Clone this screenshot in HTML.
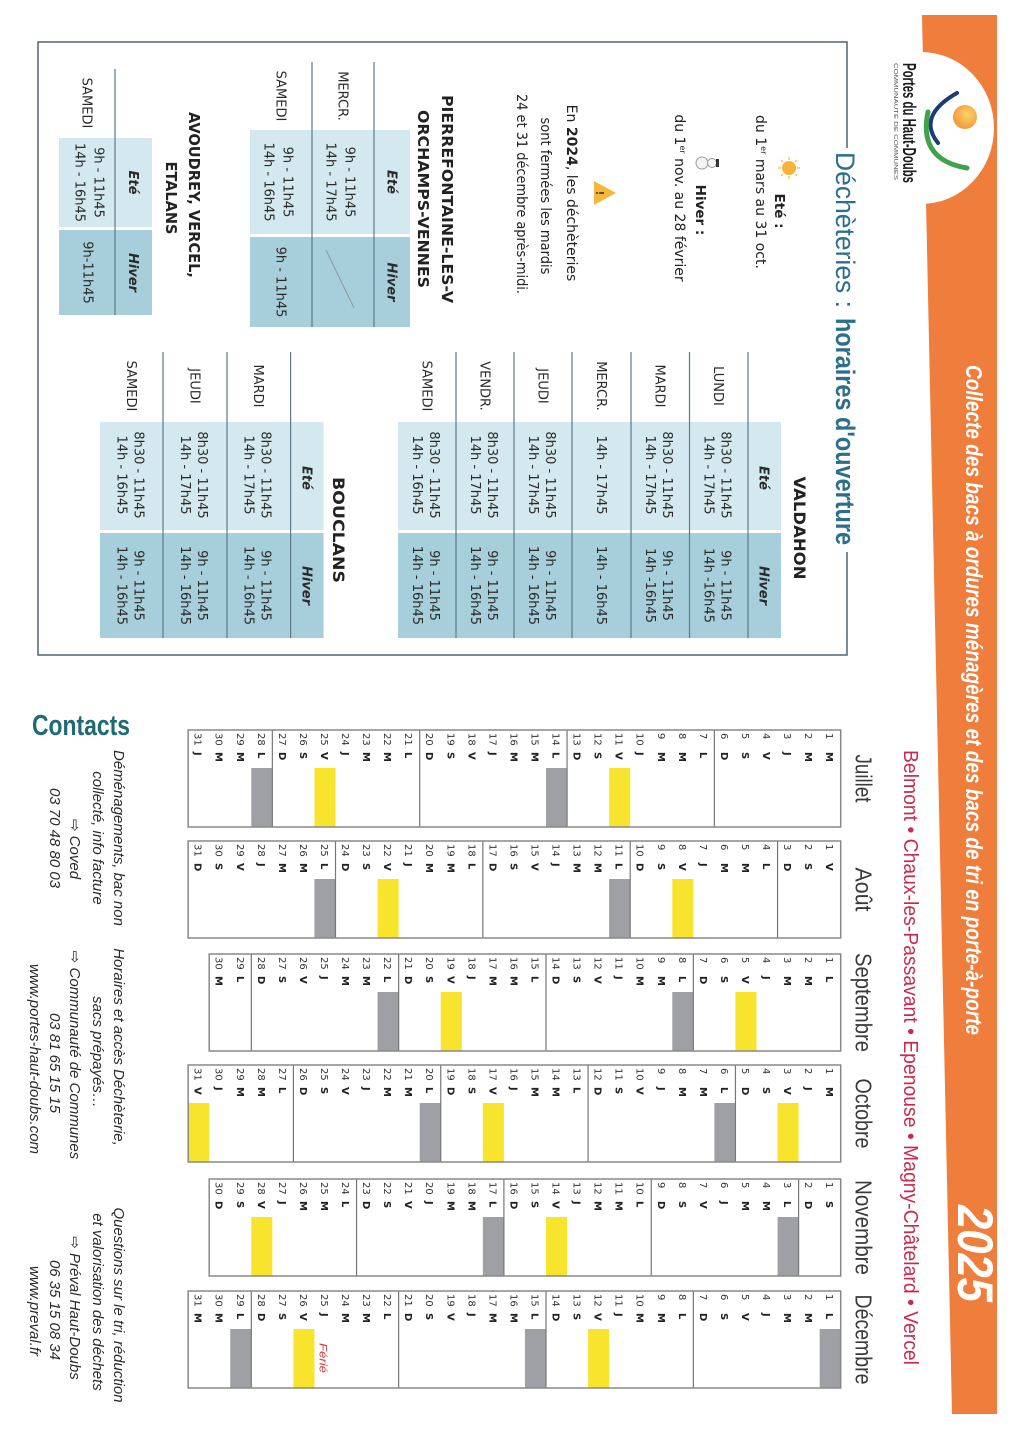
<!DOCTYPE html>
<html><head><meta charset="utf-8">
<style>html,body{margin:0;padding:0;background:#fff;width:1024px;height:1444px;overflow:hidden}svg{display:block}</style>
</head><body>
<svg width="1024" height="1444" viewBox="0 0 1024 1444" xmlns="http://www.w3.org/2000/svg" font-family="'DejaVu Sans', sans-serif">
<defs>
<radialGradient id="sg" cx="0.4" cy="0.4" r="0.6"><stop offset="0" stop-color="#fbd46a"/><stop offset="1" stop-color="#f29a3a"/></radialGradient>
</defs>
<rect width="1024" height="1444" fill="#fff"/>
<text x="32" y="735" font-family="'Liberation Sans', sans-serif" font-weight="bold" font-size="29" fill="#1e6b73" textLength="98" lengthAdjust="spacingAndGlyphs">Contacts</text>

<g transform="translate(1024 0) rotate(90)">
<!-- orange band -->
<polygon points="15,27 1414,27 1414,72 15,102" fill="#ef7d3b"/>
<ellipse cx="128" cy="103" rx="76" ry="73" fill="#fff"/>
<circle cx="117" cy="59" r="12" fill="url(#sg)"/>
<path d="M93 67 Q116 107.5 143 86" fill="none" stroke="#1b3a78" stroke-width="4" stroke-linecap="round"/>
<path d="M112 96 Q160 106 168 57" fill="none" stroke="#3fa34d" stroke-width="5" stroke-linecap="round"/>
<text x="63" y="121" font-family="'Liberation Sans', sans-serif" font-weight="bold" font-size="18" fill="#1a1a1a" textLength="120" lengthAdjust="spacingAndGlyphs">Portes du Haut-Doubs</text>
<text x="63" y="130" font-family="'Liberation Sans', sans-serif" font-size="5.5" fill="#555" textLength="117" lengthAdjust="spacingAndGlyphs">COMMUNAUTÉ DE COMMUNES</text>
<text x="365" y="58" font-family="'Liberation Sans', sans-serif" font-weight="bold" font-style="italic" font-size="23" fill="#fff" textLength="670" lengthAdjust="spacingAndGlyphs">Collecte des bacs à ordures ménagères et des bacs de tri en porte-à-porte</text>
<text x="1205" y="66" font-family="'Liberation Sans', sans-serif" font-weight="bold" font-style="italic" font-size="50" fill="#fff" textLength="97" lengthAdjust="spacingAndGlyphs">2025</text>
<text x="750" y="120" font-family="'Liberation Sans', sans-serif" font-size="20" fill="#c9294d" textLength="615" lengthAdjust="spacingAndGlyphs">Belmont • Chaux-les-Passavant • Epenouse • Magny-Châtelard • Vercel</text>

<!-- Box -->
<path d="M148 177 H42 V986 H655 V177 H552" fill="none" stroke="#4d6570" stroke-width="1.5"/>
<text x="152" y="188" font-family="'Liberation Sans', sans-serif" font-size="27" fill="#2c6f8b" textLength="156" lengthAdjust="spacingAndGlyphs">Déchèteries :</text>
<text x="318" y="188" font-family="'Liberation Sans', sans-serif" font-weight="bold" font-size="27" fill="#2c6f8b" textLength="227" lengthAdjust="spacingAndGlyphs">horaires d'ouverture</text>

<!-- sun -->
<g stroke="#f7c552" stroke-width="1.5">
<line x1="168" y1="224" x2="168" y2="227"/><line x1="168" y1="243" x2="168" y2="246"/>
<line x1="157" y1="235" x2="160" y2="235"/><line x1="176" y1="235" x2="179" y2="235"/>
<line x1="160" y1="227" x2="162" y2="229"/><line x1="174" y1="241" x2="176" y2="243"/>
<line x1="160" y1="243" x2="162" y2="241"/><line x1="174" y1="229" x2="176" y2="227"/>
</g>
<circle cx="168" cy="235" r="7" fill="#f7b33a"/>
<text x="211" y="249" text-anchor="middle" font-weight="bold" font-size="13.5" fill="#222">Eté :</text>
<text x="192" y="268" text-anchor="middle" font-size="14" fill="#222">du 1<tspan font-size="8" dy="-5">er</tspan><tspan dy="5"> mars au 31 oct.</tspan></text>
<!-- snowman -->
<circle cx="163" cy="322" r="6" fill="#f4f4f4" stroke="#9a9a9a" stroke-width="1"/>
<circle cx="163" cy="312" r="4.5" fill="#f4f4f4" stroke="#9a9a9a" stroke-width="1"/>
<rect x="159" y="305" width="8" height="3" fill="#333"/>
<text x="210" y="328" text-anchor="middle" font-weight="bold" font-size="13.5" fill="#222">Hiver :</text>
<text x="198" y="349" text-anchor="middle" font-size="14" fill="#222">du 1<tspan font-size="8" dy="-5">er</tspan><tspan dy="5"> nov. au 28 février</tspan></text>
<!-- warning -->
<polygon points="193,408 205,430 181,430" fill="#f5b83d"/>
<text x="193" y="428" text-anchor="middle" font-weight="bold" font-size="11" fill="#5a4a20">!</text>
<text x="193" y="457" text-anchor="middle" font-size="14" fill="#222">En <tspan font-weight="bold">2024</tspan>, les déchèteries</text>
<text x="196" y="483" text-anchor="middle" font-size="14" fill="#222" textLength="157" lengthAdjust="spacingAndGlyphs">sont fermées les mardis</text>
<text x="194" y="507" text-anchor="middle" font-size="14" fill="#222" textLength="200" lengthAdjust="spacingAndGlyphs">24 et 31 décembre après-midi.</text>

<!-- Pierrefontaine -->
<text x="199" y="582" text-anchor="middle" font-weight="bold" font-size="15" fill="#222" textLength="208" lengthAdjust="spacingAndGlyphs">PIERREFONTAINE-LES-V</text>
<text x="199" y="606" text-anchor="middle" font-weight="bold" font-size="15" fill="#222" textLength="178" lengthAdjust="spacingAndGlyphs">ORCHAMPS-VENNES</text>
<rect x="130" y="614" width="104" height="160" fill="#d4e9ef"/>
<rect x="237" y="614" width="90" height="160" fill="#a7cfdb"/>
<path d="M62 650 H327 M62 712 H327" stroke="#5d7b88" stroke-width="1.2"/>
<line x1="250" y1="698" x2="308" y2="670" stroke="#8a9aa0" stroke-width="1"/>
<g font-size="13" fill="#2a2a2a" text-anchor="middle">
<text x="182" y="636.7" font-weight="bold" font-style="italic">Eté</text>
<text x="282" y="636.7" font-weight="bold" font-style="italic">Hiver</text>
<text x="96" y="685.7">MERCR.</text>
<text x="96" y="747.7">SAMEDI</text>
<text x="182" y="678.7">9h - 11h45</text>
<text x="182" y="697.7">14h - 17h45</text>
<text x="182" y="740.7">9h - 11h45</text>
<text x="182" y="759.7">14h - 16h45</text>
<text x="282" y="747.7">9h - 11h45</text>
</g>

<!-- Avoudrey -->
<text x="195" y="835" text-anchor="middle" font-weight="bold" font-size="15" fill="#222" textLength="166" lengthAdjust="spacingAndGlyphs">AVOUDREY, VERCEL,</text>
<text x="198" y="858" text-anchor="middle" font-weight="bold" font-size="15" fill="#222" textLength="73" lengthAdjust="spacingAndGlyphs">ETALANS</text>
<rect x="138" y="872" width="89" height="93" fill="#d4e9ef"/>
<rect x="230" y="872" width="85" height="93" fill="#a7cfdb"/>
<path d="M69 909 H315" stroke="#5d7b88" stroke-width="1.2"/>
<g font-size="13" fill="#2a2a2a" text-anchor="middle">
<text x="182.5" y="895" font-weight="bold" font-style="italic">Eté</text>
<text x="272.5" y="895" font-weight="bold" font-style="italic">Hiver</text>
<text x="103" y="941.7">SAMEDI</text>
<text x="182.5" y="929.7">9h - 11h45</text>
<text x="182.5" y="948.7">14h - 16h45</text>
<text x="272.5" y="940.7">9h-11h45</text>
</g>

<!-- Valdahon -->
<text x="528" y="230" text-anchor="middle" font-weight="bold" font-size="16" fill="#222" textLength="103" lengthAdjust="spacingAndGlyphs">VALDAHON</text>
<rect x="422" y="243" width="108" height="383" fill="#d4e9ef"/>
<rect x="533" y="243" width="105" height="383" fill="#a7cfdb"/>
<path d="M352 276H638M352 334.5H638M352 393H638M352 452H638M352 510H638M352 568H638" stroke="#5d7b88" stroke-width="1.2"/>
<g font-size="13" fill="#2a2a2a" text-anchor="middle">
<text x="478" y="264.5" font-weight="bold" font-style="italic">Eté</text>
<text x="585.5" y="264.5" font-weight="bold" font-style="italic">Hiver</text>
<text x="386" y="310">LUNDI</text>
<text x="386" y="368.7">MARDI</text>
<text x="386" y="427.2">MERCR.</text>
<text x="386" y="485.7">JEUDI</text>
<text x="386" y="543.7">VENDR.</text>
<text x="386" y="601.7">SAMEDI</text>
<text x="475" y="302.5">8h30 - 11h45</text><text x="475" y="319.5">14h - 17h45</text>
<text x="585.5" y="302.5">9h - 11h45</text><text x="585.5" y="319.5">14h -16h45</text>
<text x="475" y="361.2">8h30 - 11h45</text><text x="475" y="378.2">14h - 17h45</text>
<text x="585.5" y="361.2">9h - 11h45</text><text x="585.5" y="378.2">14h -16h45</text>
<text x="475" y="427.2">14h - 17h45</text>
<text x="585.5" y="427.2">14h - 16h45</text>
<text x="475" y="478.2">8h30 - 11h45</text><text x="475" y="495.2">14h - 17h45</text>
<text x="585.5" y="478.2">9h - 11h45</text><text x="585.5" y="495.2">14h - 16h45</text>
<text x="475" y="536.2">8h30 - 11h45</text><text x="475" y="553.2">14h - 17h45</text>
<text x="585.5" y="536.2">9h - 11h45</text><text x="585.5" y="553.2">14h - 16h45</text>
<text x="475" y="594.2">8h30 - 11h45</text><text x="475" y="611.2">14h - 16h45</text>
<text x="585.5" y="594.2">9h - 11h45</text><text x="585.5" y="611.2">14h - 16h45</text>
</g>

<!-- Bouclans -->
<text x="530" y="691" text-anchor="middle" font-weight="bold" font-size="16" fill="#222" textLength="106" lengthAdjust="spacingAndGlyphs">BOUCLANS</text>
<rect x="422" y="700.4" width="108" height="223.6" fill="#d4e9ef"/>
<rect x="533" y="700.4" width="105" height="223.6" fill="#a7cfdb"/>
<path d="M352 733.4H638M352 797H638M352 861H638" stroke="#5d7b88" stroke-width="1.2"/>
<g font-size="13" fill="#2a2a2a" text-anchor="middle">
<text x="478" y="721.7" font-weight="bold" font-style="italic">Eté</text>
<text x="585.5" y="721.7" font-weight="bold" font-style="italic">Hiver</text>
<text x="386" y="769.9">MARDI</text>
<text x="386" y="833.7">JEUDI</text>
<text x="386" y="897.2">SAMEDI</text>
<text x="475" y="762.4">8h30 - 11h45</text><text x="475" y="779.4">14h - 17h45</text>
<text x="585.5" y="762.4">9h - 11h45</text><text x="585.5" y="779.4">14h - 16h45</text>
<text x="475" y="826.2">8h30 - 11h45</text><text x="475" y="843.2">14h - 17h45</text>
<text x="585.5" y="826.2">9h - 11h45</text><text x="585.5" y="843.2">14h - 16h45</text>
<text x="475" y="889.7">8h30 - 11h45</text><text x="475" y="906.7">14h - 16h45</text>
<text x="585.5" y="889.7">9h - 11h45</text><text x="585.5" y="906.7">14h - 16h45</text>
</g>

<!-- Calendar: Juillet -->
<g transform="translate(730 183.3)">
<text x="48.5" y="-15" text-anchor="middle" font-family="'Liberation Sans', sans-serif" font-size="23" fill="#3a3a3a" textLength="48" lengthAdjust="spacingAndGlyphs">Juillet</text>
<rect x="38" y="210.5" width="59" height="21.05" fill="#f8e42c"/>
<rect x="38" y="505.2" width="59" height="21.05" fill="#f8e42c"/>
<rect x="38" y="273.65" width="59" height="21.05" fill="#9ea0a6"/>
<rect x="38" y="568.35" width="59" height="21.05" fill="#9ea0a6"/>
<path d="M0 126.3H97M0 273.65H97M0 421H97M0 568.35H97" stroke="#777" stroke-width="1.2"/>
<rect x="0" y="0" width="97" height="652.55" fill="none" stroke="#888" stroke-width="1.5"/>
<text font-size="10" fill="#333"><tspan x="3" y="14.5">1</tspan><tspan x="3" y="35.6">2</tspan><tspan x="3" y="56.6">3</tspan><tspan x="3" y="77.7">4</tspan><tspan x="3" y="98.7">5</tspan><tspan x="3" y="119.8">6</tspan><tspan x="3" y="140.8">7</tspan><tspan x="3" y="161.9">8</tspan><tspan x="3" y="182.9">9</tspan><tspan x="3" y="204">10</tspan><tspan x="3" y="225">11</tspan><tspan x="3" y="246.1">12</tspan><tspan x="3" y="267.1">13</tspan><tspan x="3" y="288.2">14</tspan><tspan x="3" y="309.2">15</tspan><tspan x="3" y="330.3">16</tspan><tspan x="3" y="351.3">17</tspan><tspan x="3" y="372.4">18</tspan><tspan x="3" y="393.4">19</tspan><tspan x="3" y="414.5">20</tspan><tspan x="3" y="435.5">21</tspan><tspan x="3" y="456.6">22</tspan><tspan x="3" y="477.6">23</tspan><tspan x="3" y="498.7">24</tspan><tspan x="3" y="519.7">25</tspan><tspan x="3" y="540.8">26</tspan><tspan x="3" y="561.8">27</tspan><tspan x="3" y="582.9">28</tspan><tspan x="3" y="603.9">29</tspan><tspan x="3" y="625">30</tspan><tspan x="3" y="646">31</tspan></text>
<text font-size="10" font-weight="bold" fill="#222"><tspan x="22" y="14.5">M</tspan><tspan x="22" y="35.6">M</tspan><tspan x="22" y="56.6">J</tspan><tspan x="22" y="77.7">V</tspan><tspan x="22" y="98.7">S</tspan><tspan x="22" y="119.8">D</tspan><tspan x="22" y="140.8">L</tspan><tspan x="22" y="161.9">M</tspan><tspan x="22" y="182.9">M</tspan><tspan x="22" y="204">J</tspan><tspan x="22" y="225">V</tspan><tspan x="22" y="246.1">S</tspan><tspan x="22" y="267.1">D</tspan><tspan x="22" y="288.2">L</tspan><tspan x="22" y="309.2">M</tspan><tspan x="22" y="330.3">M</tspan><tspan x="22" y="351.3">J</tspan><tspan x="22" y="372.4">V</tspan><tspan x="22" y="393.4">S</tspan><tspan x="22" y="414.5">D</tspan><tspan x="22" y="435.5">L</tspan><tspan x="22" y="456.6">M</tspan><tspan x="22" y="477.6">M</tspan><tspan x="22" y="498.7">J</tspan><tspan x="22" y="519.7">V</tspan><tspan x="22" y="540.8">S</tspan><tspan x="22" y="561.8">D</tspan><tspan x="22" y="582.9">L</tspan><tspan x="22" y="603.9">M</tspan><tspan x="22" y="625">M</tspan><tspan x="22" y="646">J</tspan></text>
</g>

<!-- Août -->
<g transform="translate(841 183.3)">
<text x="48.5" y="-15" text-anchor="middle" font-family="'Liberation Sans', sans-serif" font-size="23" fill="#3a3a3a" textLength="44" lengthAdjust="spacingAndGlyphs">Août</text>
<rect x="38" y="147.35" width="59" height="21.05" fill="#f8e42c"/>
<rect x="38" y="442.05" width="59" height="21.05" fill="#f8e42c"/>
<rect x="38" y="210.5" width="59" height="21.05" fill="#9ea0a6"/>
<rect x="38" y="505.2" width="59" height="21.05" fill="#9ea0a6"/>
<path d="M0 63.15H97M0 210.5H97M0 357.85H97M0 505.2H97" stroke="#777" stroke-width="1.2"/>
<rect x="0" y="0" width="97" height="652.55" fill="none" stroke="#888" stroke-width="1.5"/>
<text font-size="10" fill="#333"><tspan x="3" y="14.5">1</tspan><tspan x="3" y="35.6">2</tspan><tspan x="3" y="56.6">3</tspan><tspan x="3" y="77.7">4</tspan><tspan x="3" y="98.7">5</tspan><tspan x="3" y="119.8">6</tspan><tspan x="3" y="140.8">7</tspan><tspan x="3" y="161.9">8</tspan><tspan x="3" y="182.9">9</tspan><tspan x="3" y="204">10</tspan><tspan x="3" y="225">11</tspan><tspan x="3" y="246.1">12</tspan><tspan x="3" y="267.1">13</tspan><tspan x="3" y="288.2">14</tspan><tspan x="3" y="309.2">15</tspan><tspan x="3" y="330.3">16</tspan><tspan x="3" y="351.3">17</tspan><tspan x="3" y="372.4">18</tspan><tspan x="3" y="393.4">19</tspan><tspan x="3" y="414.5">20</tspan><tspan x="3" y="435.5">21</tspan><tspan x="3" y="456.6">22</tspan><tspan x="3" y="477.6">23</tspan><tspan x="3" y="498.7">24</tspan><tspan x="3" y="519.7">25</tspan><tspan x="3" y="540.8">26</tspan><tspan x="3" y="561.8">27</tspan><tspan x="3" y="582.9">28</tspan><tspan x="3" y="603.9">29</tspan><tspan x="3" y="625">30</tspan><tspan x="3" y="646">31</tspan></text>
<text font-size="10" font-weight="bold" fill="#222"><tspan x="22" y="14.5">V</tspan><tspan x="22" y="35.6">S</tspan><tspan x="22" y="56.6">D</tspan><tspan x="22" y="77.7">L</tspan><tspan x="22" y="98.7">M</tspan><tspan x="22" y="119.8">M</tspan><tspan x="22" y="140.8">J</tspan><tspan x="22" y="161.9">V</tspan><tspan x="22" y="182.9">S</tspan><tspan x="22" y="204">D</tspan><tspan x="22" y="225">L</tspan><tspan x="22" y="246.1">M</tspan><tspan x="22" y="267.1">M</tspan><tspan x="22" y="288.2">J</tspan><tspan x="22" y="309.2">V</tspan><tspan x="22" y="330.3">S</tspan><tspan x="22" y="351.3">D</tspan><tspan x="22" y="372.4">L</tspan><tspan x="22" y="393.4">M</tspan><tspan x="22" y="414.5">M</tspan><tspan x="22" y="435.5">J</tspan><tspan x="22" y="456.6">V</tspan><tspan x="22" y="477.6">S</tspan><tspan x="22" y="498.7">D</tspan><tspan x="22" y="519.7">L</tspan><tspan x="22" y="540.8">M</tspan><tspan x="22" y="561.8">M</tspan><tspan x="22" y="582.9">J</tspan><tspan x="22" y="603.9">V</tspan><tspan x="22" y="625">S</tspan><tspan x="22" y="646">D</tspan></text>
</g>

<!-- Septembre -->
<g transform="translate(954 183.3)">
<text x="48.5" y="-15" text-anchor="middle" font-family="'Liberation Sans', sans-serif" font-size="23" fill="#3a3a3a" textLength="99" lengthAdjust="spacingAndGlyphs">Septembre</text>
<rect x="38" y="84.2" width="59" height="21.05" fill="#f8e42c"/>
<rect x="38" y="378.9" width="59" height="21.05" fill="#f8e42c"/>
<rect x="38" y="147.35" width="59" height="21.05" fill="#9ea0a6"/>
<rect x="38" y="442.05" width="59" height="21.05" fill="#9ea0a6"/>
<path d="M0 147.35H97M0 294.7H97M0 442.05H97M0 589.4H97" stroke="#777" stroke-width="1.2"/>
<rect x="0" y="0" width="97" height="631.5" fill="none" stroke="#888" stroke-width="1.5"/>
<text font-size="10" fill="#333"><tspan x="3" y="14.5">1</tspan><tspan x="3" y="35.6">2</tspan><tspan x="3" y="56.6">3</tspan><tspan x="3" y="77.7">4</tspan><tspan x="3" y="98.7">5</tspan><tspan x="3" y="119.8">6</tspan><tspan x="3" y="140.8">7</tspan><tspan x="3" y="161.9">8</tspan><tspan x="3" y="182.9">9</tspan><tspan x="3" y="204">10</tspan><tspan x="3" y="225">11</tspan><tspan x="3" y="246.1">12</tspan><tspan x="3" y="267.1">13</tspan><tspan x="3" y="288.2">14</tspan><tspan x="3" y="309.2">15</tspan><tspan x="3" y="330.3">16</tspan><tspan x="3" y="351.3">17</tspan><tspan x="3" y="372.4">18</tspan><tspan x="3" y="393.4">19</tspan><tspan x="3" y="414.5">20</tspan><tspan x="3" y="435.5">21</tspan><tspan x="3" y="456.6">22</tspan><tspan x="3" y="477.6">23</tspan><tspan x="3" y="498.7">24</tspan><tspan x="3" y="519.7">25</tspan><tspan x="3" y="540.8">26</tspan><tspan x="3" y="561.8">27</tspan><tspan x="3" y="582.9">28</tspan><tspan x="3" y="603.9">29</tspan><tspan x="3" y="625">30</tspan></text>
<text font-size="10" font-weight="bold" fill="#222"><tspan x="22" y="14.5">L</tspan><tspan x="22" y="35.6">M</tspan><tspan x="22" y="56.6">M</tspan><tspan x="22" y="77.7">J</tspan><tspan x="22" y="98.7">V</tspan><tspan x="22" y="119.8">S</tspan><tspan x="22" y="140.8">D</tspan><tspan x="22" y="161.9">L</tspan><tspan x="22" y="182.9">M</tspan><tspan x="22" y="204">M</tspan><tspan x="22" y="225">J</tspan><tspan x="22" y="246.1">V</tspan><tspan x="22" y="267.1">S</tspan><tspan x="22" y="288.2">D</tspan><tspan x="22" y="309.2">L</tspan><tspan x="22" y="330.3">M</tspan><tspan x="22" y="351.3">M</tspan><tspan x="22" y="372.4">J</tspan><tspan x="22" y="393.4">V</tspan><tspan x="22" y="414.5">S</tspan><tspan x="22" y="435.5">D</tspan><tspan x="22" y="456.6">L</tspan><tspan x="22" y="477.6">M</tspan><tspan x="22" y="498.7">M</tspan><tspan x="22" y="519.7">J</tspan><tspan x="22" y="540.8">V</tspan><tspan x="22" y="561.8">S</tspan><tspan x="22" y="582.9">D</tspan><tspan x="22" y="603.9">L</tspan><tspan x="22" y="625">M</tspan></text>
</g>

<!-- Octobre -->
<g transform="translate(1065 183.3)">
<text x="48.5" y="-15" text-anchor="middle" font-family="'Liberation Sans', sans-serif" font-size="23" fill="#3a3a3a" textLength="70" lengthAdjust="spacingAndGlyphs">Octobre</text>
<rect x="38" y="42.1" width="59" height="21.05" fill="#f8e42c"/>
<rect x="38" y="336.8" width="59" height="21.05" fill="#f8e42c"/>
<rect x="38" y="631.5" width="59" height="21.05" fill="#f8e42c"/>
<rect x="38" y="105.25" width="59" height="21.05" fill="#9ea0a6"/>
<rect x="38" y="399.95" width="59" height="21.05" fill="#9ea0a6"/>
<path d="M0 105.25H97M0 252.6H97M0 399.95H97M0 547.3H97" stroke="#777" stroke-width="1.2"/>
<rect x="0" y="0" width="97" height="652.55" fill="none" stroke="#888" stroke-width="1.5"/>
<text font-size="10" fill="#333"><tspan x="3" y="14.5">1</tspan><tspan x="3" y="35.6">2</tspan><tspan x="3" y="56.6">3</tspan><tspan x="3" y="77.7">4</tspan><tspan x="3" y="98.7">5</tspan><tspan x="3" y="119.8">6</tspan><tspan x="3" y="140.8">7</tspan><tspan x="3" y="161.9">8</tspan><tspan x="3" y="182.9">9</tspan><tspan x="3" y="204">10</tspan><tspan x="3" y="225">11</tspan><tspan x="3" y="246.1">12</tspan><tspan x="3" y="267.1">13</tspan><tspan x="3" y="288.2">14</tspan><tspan x="3" y="309.2">15</tspan><tspan x="3" y="330.3">16</tspan><tspan x="3" y="351.3">17</tspan><tspan x="3" y="372.4">18</tspan><tspan x="3" y="393.4">19</tspan><tspan x="3" y="414.5">20</tspan><tspan x="3" y="435.5">21</tspan><tspan x="3" y="456.6">22</tspan><tspan x="3" y="477.6">23</tspan><tspan x="3" y="498.7">24</tspan><tspan x="3" y="519.7">25</tspan><tspan x="3" y="540.8">26</tspan><tspan x="3" y="561.8">27</tspan><tspan x="3" y="582.9">28</tspan><tspan x="3" y="603.9">29</tspan><tspan x="3" y="625">30</tspan><tspan x="3" y="646">31</tspan></text>
<text font-size="10" font-weight="bold" fill="#222"><tspan x="22" y="14.5">M</tspan><tspan x="22" y="35.6">J</tspan><tspan x="22" y="56.6">V</tspan><tspan x="22" y="77.7">S</tspan><tspan x="22" y="98.7">D</tspan><tspan x="22" y="119.8">L</tspan><tspan x="22" y="140.8">M</tspan><tspan x="22" y="161.9">M</tspan><tspan x="22" y="182.9">J</tspan><tspan x="22" y="204">V</tspan><tspan x="22" y="225">S</tspan><tspan x="22" y="246.1">D</tspan><tspan x="22" y="267.1">L</tspan><tspan x="22" y="288.2">M</tspan><tspan x="22" y="309.2">M</tspan><tspan x="22" y="330.3">J</tspan><tspan x="22" y="351.3">V</tspan><tspan x="22" y="372.4">S</tspan><tspan x="22" y="393.4">D</tspan><tspan x="22" y="414.5">L</tspan><tspan x="22" y="435.5">M</tspan><tspan x="22" y="456.6">M</tspan><tspan x="22" y="477.6">J</tspan><tspan x="22" y="498.7">V</tspan><tspan x="22" y="519.7">S</tspan><tspan x="22" y="540.8">D</tspan><tspan x="22" y="561.8">L</tspan><tspan x="22" y="582.9">M</tspan><tspan x="22" y="603.9">M</tspan><tspan x="22" y="625">J</tspan><tspan x="22" y="646">V</tspan></text>
</g>

<!-- Novembre -->
<g transform="translate(1179 183.3)">
<text x="48.5" y="-15" text-anchor="middle" font-family="'Liberation Sans', sans-serif" font-size="23" fill="#3a3a3a" textLength="95" lengthAdjust="spacingAndGlyphs">Novembre</text>
<rect x="38" y="273.65" width="59" height="21.05" fill="#f8e42c"/>
<rect x="38" y="568.35" width="59" height="21.05" fill="#f8e42c"/>
<rect x="38" y="42.1" width="59" height="21.05" fill="#9ea0a6"/>
<rect x="38" y="336.8" width="59" height="21.05" fill="#9ea0a6"/>
<path d="M0 42.1H97M0 189.45H97M0 336.8H97M0 484.15H97" stroke="#777" stroke-width="1.2"/>
<rect x="0" y="0" width="97" height="631.5" fill="none" stroke="#888" stroke-width="1.5"/>
<text font-size="10" fill="#333"><tspan x="3" y="14.5">1</tspan><tspan x="3" y="35.6">2</tspan><tspan x="3" y="56.6">3</tspan><tspan x="3" y="77.7">4</tspan><tspan x="3" y="98.7">5</tspan><tspan x="3" y="119.8">6</tspan><tspan x="3" y="140.8">7</tspan><tspan x="3" y="161.9">8</tspan><tspan x="3" y="182.9">9</tspan><tspan x="3" y="204">10</tspan><tspan x="3" y="225">11</tspan><tspan x="3" y="246.1">12</tspan><tspan x="3" y="267.1">13</tspan><tspan x="3" y="288.2">14</tspan><tspan x="3" y="309.2">15</tspan><tspan x="3" y="330.3">16</tspan><tspan x="3" y="351.3">17</tspan><tspan x="3" y="372.4">18</tspan><tspan x="3" y="393.4">19</tspan><tspan x="3" y="414.5">20</tspan><tspan x="3" y="435.5">21</tspan><tspan x="3" y="456.6">22</tspan><tspan x="3" y="477.6">23</tspan><tspan x="3" y="498.7">24</tspan><tspan x="3" y="519.7">25</tspan><tspan x="3" y="540.8">26</tspan><tspan x="3" y="561.8">27</tspan><tspan x="3" y="582.9">28</tspan><tspan x="3" y="603.9">29</tspan><tspan x="3" y="625">30</tspan></text>
<text font-size="10" font-weight="bold" fill="#222"><tspan x="22" y="14.5">S</tspan><tspan x="22" y="35.6">D</tspan><tspan x="22" y="56.6">L</tspan><tspan x="22" y="77.7">M</tspan><tspan x="22" y="98.7">M</tspan><tspan x="22" y="119.8">J</tspan><tspan x="22" y="140.8">V</tspan><tspan x="22" y="161.9">S</tspan><tspan x="22" y="182.9">D</tspan><tspan x="22" y="204">L</tspan><tspan x="22" y="225">M</tspan><tspan x="22" y="246.1">M</tspan><tspan x="22" y="267.1">J</tspan><tspan x="22" y="288.2">V</tspan><tspan x="22" y="309.2">S</tspan><tspan x="22" y="330.3">D</tspan><tspan x="22" y="351.3">L</tspan><tspan x="22" y="372.4">M</tspan><tspan x="22" y="393.4">M</tspan><tspan x="22" y="414.5">J</tspan><tspan x="22" y="435.5">V</tspan><tspan x="22" y="456.6">S</tspan><tspan x="22" y="477.6">D</tspan><tspan x="22" y="498.7">L</tspan><tspan x="22" y="519.7">M</tspan><tspan x="22" y="540.8">M</tspan><tspan x="22" y="561.8">J</tspan><tspan x="22" y="582.9">V</tspan><tspan x="22" y="603.9">S</tspan><tspan x="22" y="625">D</tspan></text>
</g>

<!-- Décembre -->
<g transform="translate(1291 183.3)">
<text x="48.5" y="-15" text-anchor="middle" font-family="'Liberation Sans', sans-serif" font-size="23" fill="#3a3a3a" textLength="90" lengthAdjust="spacingAndGlyphs">Décembre</text>
<rect x="38" y="231.55" width="59" height="21.05" fill="#f8e42c"/>
<rect x="38" y="526.25" width="59" height="21.05" fill="#f8e42c"/>
<rect x="38" y="0" width="59" height="21.05" fill="#9ea0a6"/>
<rect x="38" y="294.7" width="59" height="21.05" fill="#9ea0a6"/>
<rect x="38" y="589.4" width="59" height="21.05" fill="#9ea0a6"/>
<path d="M0 147.35H97M0 294.7H97M0 442.05H97M0 589.4H97" stroke="#777" stroke-width="1.2"/>
<rect x="0" y="0" width="97" height="652.55" fill="none" stroke="#888" stroke-width="1.5"/>
<text x="52" y="521" font-family="'Liberation Sans', sans-serif" font-style="italic" font-size="11" fill="#d0393c" textLength="30" lengthAdjust="spacingAndGlyphs">Férié</text>
<text font-size="10" fill="#333"><tspan x="3" y="14.5">1</tspan><tspan x="3" y="35.6">2</tspan><tspan x="3" y="56.6">3</tspan><tspan x="3" y="77.7">4</tspan><tspan x="3" y="98.7">5</tspan><tspan x="3" y="119.8">6</tspan><tspan x="3" y="140.8">7</tspan><tspan x="3" y="161.9">8</tspan><tspan x="3" y="182.9">9</tspan><tspan x="3" y="204">10</tspan><tspan x="3" y="225">11</tspan><tspan x="3" y="246.1">12</tspan><tspan x="3" y="267.1">13</tspan><tspan x="3" y="288.2">14</tspan><tspan x="3" y="309.2">15</tspan><tspan x="3" y="330.3">16</tspan><tspan x="3" y="351.3">17</tspan><tspan x="3" y="372.4">18</tspan><tspan x="3" y="393.4">19</tspan><tspan x="3" y="414.5">20</tspan><tspan x="3" y="435.5">21</tspan><tspan x="3" y="456.6">22</tspan><tspan x="3" y="477.6">23</tspan><tspan x="3" y="498.7">24</tspan><tspan x="3" y="519.7">25</tspan><tspan x="3" y="540.8">26</tspan><tspan x="3" y="561.8">27</tspan><tspan x="3" y="582.9">28</tspan><tspan x="3" y="603.9">29</tspan><tspan x="3" y="625">30</tspan><tspan x="3" y="646">31</tspan></text>
<text font-size="10" font-weight="bold" fill="#222"><tspan x="22" y="14.5">L</tspan><tspan x="22" y="35.6">M</tspan><tspan x="22" y="56.6">M</tspan><tspan x="22" y="77.7">J</tspan><tspan x="22" y="98.7">V</tspan><tspan x="22" y="119.8">S</tspan><tspan x="22" y="140.8">D</tspan><tspan x="22" y="161.9">L</tspan><tspan x="22" y="182.9">M</tspan><tspan x="22" y="204">M</tspan><tspan x="22" y="225">J</tspan><tspan x="22" y="246.1">V</tspan><tspan x="22" y="267.1">S</tspan><tspan x="22" y="288.2">D</tspan><tspan x="22" y="309.2">L</tspan><tspan x="22" y="330.3">M</tspan><tspan x="22" y="351.3">M</tspan><tspan x="22" y="372.4">J</tspan><tspan x="22" y="393.4">V</tspan><tspan x="22" y="414.5">S</tspan><tspan x="22" y="435.5">D</tspan><tspan x="22" y="456.6">L</tspan><tspan x="22" y="477.6">M</tspan><tspan x="22" y="498.7">M</tspan><tspan x="22" y="519.7">J</tspan><tspan x="22" y="540.8">V</tspan><tspan x="22" y="561.8">S</tspan><tspan x="22" y="582.9">D</tspan><tspan x="22" y="603.9">L</tspan><tspan x="22" y="625">M</tspan><tspan x="22" y="646">M</tspan></text>
</g>

<!-- Contacts blocks -->
<g font-family="'Liberation Sans', 'DejaVu Sans', sans-serif" font-style="italic" font-size="15" fill="#2a2a2a" text-anchor="middle">
<text x="838" y="910">Déménagements, bac non</text>
<text x="838" y="931">collecté, info facture</text>
<text x="849" y="954">⇨ Coved</text>
<text x="838" y="974">03 70 48 80 03</text>

<text x="1047" y="910">Horaires et accès Déchèterie,</text>
<text x="1052" y="931">sacs prépayés…</text>
<text x="1055" y="954">⇨ Communauté de Communes</text>
<text x="1063" y="974">03 81 65 15 15</text>
<text x="1059" y="994">www.portes-haut-doubs.com</text>

<text x="1305" y="910">Questions sur le tri, réduction</text>
<text x="1302" y="931">et valorisation des déchets</text>
<text x="1308" y="954">⇨ Préval Haut-Doubs</text>
<text x="1310" y="974">06 35 15 08 34</text>
<text x="1311" y="994">www.preval.fr</text>
</g>
</g>
</svg>
</body></html>
